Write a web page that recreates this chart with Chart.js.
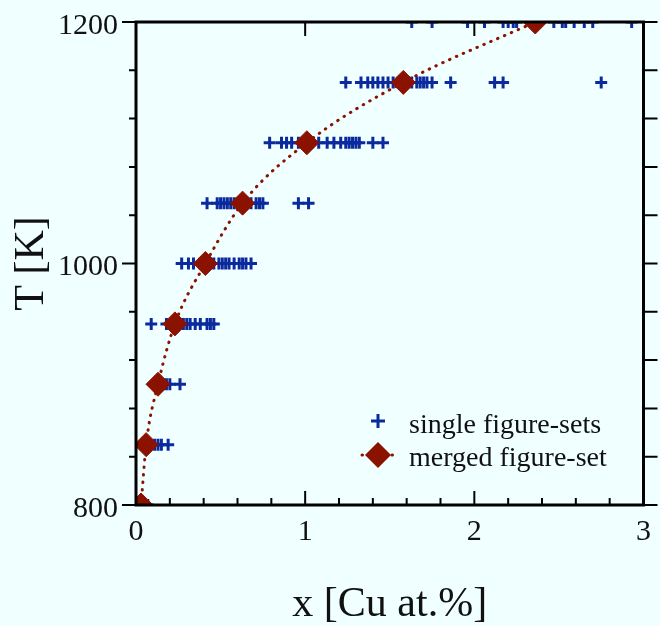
<!DOCTYPE html>
<html>
<head>
<meta charset="utf-8">
<script src="https://cdn.jsdelivr.net/npm/chart.js@4.4.1/dist/chart.umd.min.js"></script>
<style>
  html, body { margin: 0; padding: 0; background: #f0ffff; }
  canvas { display: block; }
</style>
</head>
<body>
<canvas id="cuChart" width="660" height="626"></canvas>
<script>
// temperatures of each figure-set row [K]
const tempRows = [800, 850, 900, 950, 1000, 1050, 1100, 1150, 1200];

// single figure-sets, Cu content [at.%] per temperature row
const single800 = [0.07];
const single850 = [0.11, 0.13, 0.15, 0.19];
const single900 = [0.16, 0.18, 0.20, 0.26];
const single950 = [0.09, 0.18, 0.21, 0.25, 0.28, 0.30, 0.32, 0.35, 0.38, 0.42, 0.44, 0.46];
const single1000 = [0.27, 0.31, 0.34, 0.38, 0.40, 0.43, 0.46, 0.49, 0.51, 0.53, 0.55, 0.58, 0.61, 0.63, 0.65, 0.68];
const single1050 = [0.42, 0.48, 0.50, 0.52, 0.54, 0.56, 0.58, 0.60, 0.65, 0.68, 0.71, 0.73, 0.75, 0.96, 1.02];
const single1100 = [0.79, 0.86, 0.89, 0.92, 0.96, 0.99, 1.04, 1.08, 1.13, 1.17, 1.21, 1.24, 1.26, 1.28, 1.30, 1.32, 1.40, 1.46];
const single1150 = [1.24, 1.33, 1.37, 1.40, 1.43, 1.46, 1.49, 1.52, 1.55, 1.63, 1.66, 1.68, 1.70, 1.72, 1.75, 1.86, 2.12, 2.17, 2.75];
const single1200 = [1.63, 1.75, 1.96, 2.06, 2.17, 2.20, 2.23, 2.25, 2.47, 2.52, 2.54, 2.59, 2.65, 2.70, 2.93];
const singleRows = [single800, single850, single900, single950, single1000,
                    single1050, single1100, single1150, single1200];

// merged figure-set, Cu content [at.%] per temperature row
const mergedX = [0.03, 0.06, 0.13, 0.23, 0.41, 0.63, 1.01, 1.58, 2.36];

// axis tick labels
const yLabels = [800, 1000, 1200];
const xLabels = [0, 1, 2, 3];

const blue = '#0a2a9e';
const darkRed = '#8c1200';
const serif = '"Liberation Serif", "DejaVu Serif", serif';

const singlePoints = [];
singleRows.forEach((row, i) => {
    row.forEach(x => singlePoints.push({ x: x, y: tempRows[i] }));
});
const mergedPoints = mergedX.map((x, i) => ({ x: x, y: tempRows[i] }));

const isMajor = v => Math.abs(v - Math.round(v)) < 1e-6;

// frame, tick marks and the legend inside the plot
const framePlugin = {
    id: 'frame',
    afterDraw(chart) {
        const ctx = chart.ctx;
        const a = chart.chartArea;
        const xs = chart.scales.x;
        const ys = chart.scales.y;
        ctx.save();
        ctx.strokeStyle = '#000';

        // ticks
        ctx.lineWidth = 2;
        ctx.beginPath();
        xs.ticks.forEach(t => {
            const px = xs.getPixelForValue(t.value);
            const len = isMajor(t.value) ? 14 : 7;
            ctx.moveTo(px, a.bottom);
            ctx.lineTo(px, a.bottom - len);
            if (isMajor(t.value)) {
                ctx.moveTo(px, a.top);
                ctx.lineTo(px, a.top + 14);
            }
        });
        ys.ticks.forEach(t => {
            const py = ys.getPixelForValue(t.value);
            const major = yLabels.includes(Math.round(t.value));
            ctx.moveTo(a.left, py);
            ctx.lineTo(a.left - (major ? 14 : 7), py);
            ctx.moveTo(a.right, py);
            ctx.lineTo(a.right + 14, py);
        });
        ctx.stroke();

        // frame
        ctx.lineWidth = 3;
        ctx.strokeRect(a.left, a.top, a.right - a.left, a.bottom - a.top);

        // legend
        const lx = 378;
        ctx.strokeStyle = blue;
        ctx.lineWidth = 3;
        ctx.beginPath();
        ctx.moveTo(lx - 7, 421); ctx.lineTo(lx + 7, 421);
        ctx.moveTo(lx, 414); ctx.lineTo(lx, 428);
        ctx.stroke();

        ctx.strokeStyle = darkRed;
        ctx.lineWidth = 3;
        ctx.lineCap = 'round';
        ctx.setLineDash([0.5, 7]);
        ctx.beginPath();
        ctx.moveTo(lx - 16, 455); ctx.lineTo(lx + 16, 455);
        ctx.stroke();
        ctx.setLineDash([]);
        ctx.fillStyle = darkRed;
        ctx.beginPath();
        ctx.moveTo(lx - 13, 455); ctx.lineTo(lx, 442);
        ctx.lineTo(lx + 13, 455); ctx.lineTo(lx, 468);
        ctx.closePath();
        ctx.fill();

        ctx.fillStyle = '#111';
        ctx.font = '28px ' + serif;
        ctx.textAlign = 'left';
        ctx.textBaseline = 'alphabetic';
        ctx.fillText('single figure-sets', 409, 433);
        ctx.fillText('merged figure-set', 409, 466);
        ctx.restore();
    }
};

const chart = new Chart(document.getElementById('cuChart').getContext('2d'), {
    type: 'scatter',
    data: {
        datasets: [{
            label: 'merged figure-set',
            data: mergedPoints,
            showLine: true,
            cubicInterpolationMode: 'monotone',
            borderColor: darkRed,
            borderWidth: 3,
            borderDash: [0.5, 7],
            borderCapStyle: 'round',
            pointStyle: 'rectRot',
            pointRadius: 12,
            pointBackgroundColor: darkRed,
            pointBorderColor: darkRed,
            pointBorderWidth: 1
        }, {
            label: 'single figure-sets',
            data: singlePoints,
            pointStyle: 'cross',
            pointRadius: 6,
            pointBorderColor: blue,
            pointBorderWidth: 3
        }]
    },
    options: {
        responsive: false,
        animation: false,
        layout: { padding: { top: 22, right: 14, left: 0, bottom: 0 } },
        plugins: {
            legend: { display: false },
            tooltip: { enabled: false }
        },
        scales: {
            x: {
                type: 'linear',
                min: 0,
                max: 3,
                border: { display: false },
                grid: { display: false, drawTicks: false },
                afterFit: s => { s.height = 121; },
                ticks: {
                    stepSize: 0.2,
                    autoSkip: false,
                    maxRotation: 0,
                    padding: 9,
                    color: '#111',
                    font: { family: serif, size: 30 },
                    callback: v => (isMajor(v) && xLabels.includes(Math.round(v))) ? String(Math.round(v)) : ''
                },
                title: {
                    display: true,
                    text: 'x [Cu at.%]',
                    color: '#111',
                    font: { family: serif, size: 42, lineHeight: 1.0 },
                    padding: { top: 0, bottom: 0 }
                }
            },
            y: {
                type: 'linear',
                min: 800,
                max: 1200,
                border: { display: false },
                grid: { display: false, drawTicks: false },
                afterFit: s => { s.width = 136; },
                ticks: {
                    stepSize: 40,
                    autoSkip: false,
                    padding: 18,
                    labelOffset: 4,
                    color: '#111',
                    font: { family: serif, size: 30, lineHeight: 0.2 },
                    callback: v => yLabels.includes(Math.round(v)) ? String(Math.round(v)) : ''
                },
                title: {
                    display: true,
                    text: 'T [K]',
                    color: '#111',
                    font: { family: serif, size: 42, lineHeight: 1.0 },
                    padding: { top: 11, bottom: 0 }
                }
            }
        }
    },
    plugins: [framePlugin]
});
</script>
</body>
</html>
